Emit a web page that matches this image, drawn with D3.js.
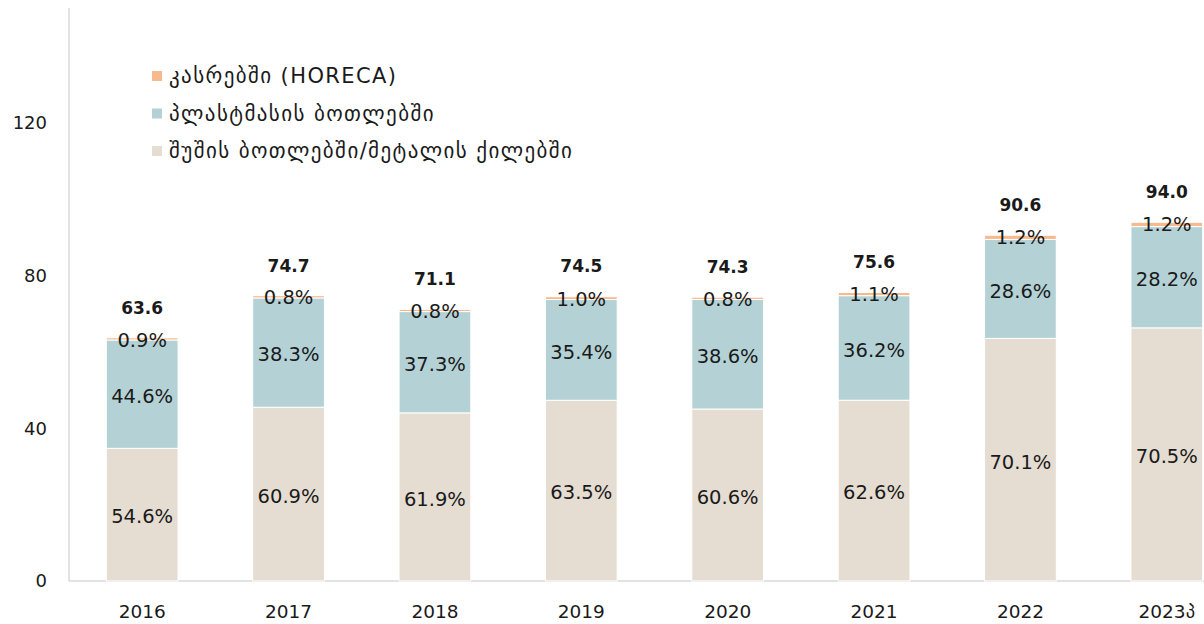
<!DOCTYPE html>
<html><head><meta charset="utf-8">
<script src="https://cdn.jsdelivr.net/npm/d3@7"></script>
<style>
body{margin:0;background:#fff;}
svg text{font-family:"DejaVu Sans",sans-serif;fill:#1a1a1a;}
</style></head>
<body><svg id="c" width="1204" height="624"></svg>
<script>
const years = ["2016","2017","2018","2019","2020","2021","2022","2023პ"];
const totals = [63.6,74.7,71.1,74.5,74.3,75.6,90.6,94.0];
const glassPct = [54.6,60.9,61.9,63.5,60.6,62.6,70.1,70.5];
const plasticPct = [44.6,38.3,37.3,35.4,38.6,36.2,28.6,28.2];
const horecaPct = [0.9,0.8,0.8,1.0,0.8,1.1,1.2,1.2];
const seriesNames = ["შუშის ბოთლებში/მეტალის ქილებში","პლასტმასის ბოთლებში","კასრებში (HORECA)"];
const seriesColors = ["#E5DDD2","#B4D2D6","#F7BA8F"];
const yTicks = [0,40,80,120];

const svg = d3.select("#c");
const x = d3.scaleBand().domain(years).range([69,1240]).paddingInner(0.51).paddingOuter(0.255);
const y = d3.scaleLinear().domain([0,150]).range([581,8]);

const rows = years.map((yr,i)=>({year:yr,total:totals[i],
  glass:totals[i]*glassPct[i]/100, plastic:totals[i]*plasticPct[i]/100, horeca:totals[i]*horecaPct[i]/100,
  pcts:[glassPct[i],plasticPct[i],horecaPct[i]]}));
const keys = ["glass","plastic","horeca"];
const stack = d3.stack().keys(keys)(rows);

svg.append("line").attr("x1",69).attr("x2",69).attr("y1",y(150)).attr("y2",y(0)).attr("stroke","#d9d9d9").attr("stroke-width",1.5);
svg.append("line").attr("x1",69).attr("x2",1204).attr("y1",y(0)).attr("y2",y(0)).attr("stroke","#d9d9d9").attr("stroke-width",1.5);

svg.selectAll(".yt").data(yTicks).enter().append("text")
  .attr("x",47).attr("y",d=>y(d)).attr("dy","0.35em").attr("text-anchor","end")
  .attr("font-size",18).text(d=>d);

svg.selectAll(".xt").data(years).enter().append("text")
  .attr("x",d=>x(d)+x.bandwidth()/2).attr("y",618).attr("text-anchor","middle")
  .attr("font-size",18.5).text(d=>d);

stack.forEach((s,si)=>{
  svg.append("g").selectAll("rect").data(s).enter().append("rect")
    .attr("x",d=>x(d.data.year)).attr("width",x.bandwidth())
    .attr("y",d=>y(d[1])).attr("height",d=>Math.max(0,y(d[0])-y(d[1])))
    .attr("fill",seriesColors[si]).attr("stroke","#fff").attr("stroke-width",1);
});
stack.forEach((s,si)=>{
  svg.append("g").selectAll("text").data(s).enter().append("text")
    .attr("x",d=>x(d.data.year)+x.bandwidth()/2)
    .attr("y",d=>si===2? y(d[1])+2 : (y(d[0])+y(d[1]))/2+2)
    .attr("dy","0.35em").attr("text-anchor","middle").attr("font-size",19.5)
    .text(d=>d.data.pcts[si].toFixed(1)+"%");
});
svg.append("g").selectAll("text").data(rows).enter().append("text")
  .attr("x",d=>x(d.year)+x.bandwidth()/2).attr("y",d=>y(d.total)-24)
  .attr("text-anchor","middle").attr("font-size",17).attr("font-weight","bold")
  .text(d=>d.total.toFixed(1));

const legOrder = [2,1,0];
legOrder.forEach((si,k)=>{
  const ly = 76 + k*37.5;
  svg.append("rect").attr("x",152).attr("y",ly-5).attr("width",10).attr("height",10).attr("fill",seriesColors[si]);
  svg.append("text").attr("x",169).attr("y",ly).attr("dy","0.35em").attr("font-size",21)
    .attr("letter-spacing",1.4).text(seriesNames[si]);
});
</script></body></html>
